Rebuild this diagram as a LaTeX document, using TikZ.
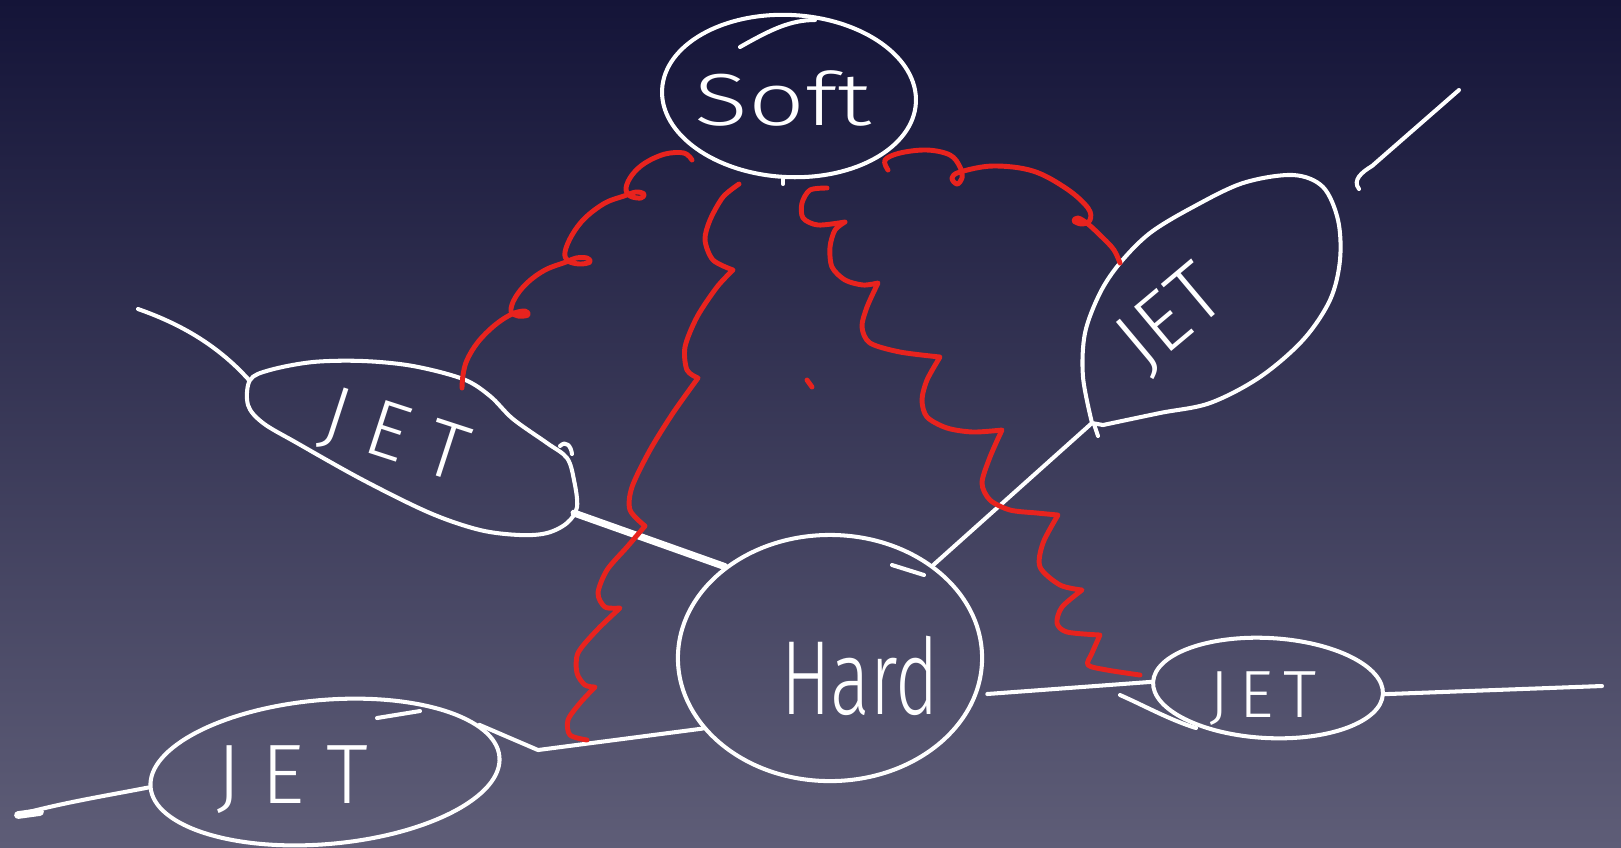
\documentclass[tikz,border=0pt]{standalone}
\usepackage{fontspec}
\usetikzlibrary{shapes.geometric}
\IfFontExistsTF{Fira Sans Light}{\newfontfamily\hand{Fira Sans Light}}{\newfontfamily\hand{Fira Sans}}
\definecolor{bgtop}{HTML}{141438}
\definecolor{bgbot}{HTML}{5E5D77}
\definecolor{gluon}{HTML}{E8231E}
\newcommand{\jetword}[1]{J\kern#1 E\kern#1 T}
\begin{document}
\begin{tikzpicture}[x=0.01cm,y=-0.01cm,
  pen/.style={draw=white,line width=1.15pt,line cap=round,line join=round},
  glu/.style={draw=gluon,line width=1.4pt,line cap=round,line join=round},
  blob/.style={ellipse,pen,inner sep=0pt},
  hw/.style={text=white,inner sep=0pt}]
% backdrop
\shade[top color=bgtop,bottom color=bgbot] (0,0) rectangle (1621,847);
\useasboundingbox (0,0) rectangle (1621,847);

% ---- blobs ----
\node[blob,minimum width=2.54cm,minimum height=1.62cm,rotate=-3] (soft) at (789,96) {};
\node[hw,font=\hand\fontsize{21}{24}\selectfont,xscale=1.35] (softtext) at (783,98) {Soft};
\draw[pen] (740,47) .. controls (770,30) and (790,20) .. (815,20);
\draw[pen] (783,177) -- (783,184);

\node[blob,minimum width=3.04cm,minimum height=2.46cm] (hard) at (830,658) {};
\node[hw,font=\hand\fontsize{30}{34}\selectfont,xscale=0.7] (hardtext) at (860,676) {Hard};
\draw[pen] (892,565) -- (924,575);

\node[blob,minimum width=3.5cm,minimum height=1.44cm,rotate=5] (jetBL) at (325,772) {};
\node[hw,font=\hand\fontsize{24}{28}\selectfont] (jetBLtext) at (292,780) {\jetword{6pt}};
\draw[pen] (377,718) -- (420,711);

\node[blob,minimum width=2.3cm,minimum height=1.0cm,rotate=-3] (jetBR) at (1268,688) {};
\node[hw,font=\hand\fontsize{19}{22}\selectfont] (jetBRtext) at (1263,699) {\jetword{3pt}};
\draw[pen] (1120,695) .. controls (1145,706) and (1170,720) .. (1196,728);

% left jet: elongated, tilted outline around its label
\node[hw,font=\hand\fontsize{23}{26}\selectfont,rotate=-18] (jetL) at (395,438) {\jetword{6pt}};
\draw[pen] plot[smooth cycle,tension=0.55] coordinates {
  (250,380) (270,370) (313,362) (363,361) (413,366) (463,379) (490,396)
  (513,419) (547,443) (567,458) (574,480) (577,507) (567,523) (547,533)
  (520,535) (480,530) (430,513) (363,480) (297,443) (263,423) (248,405)};
\coordinate (jetLin) at (249,380);
\coordinate (jetLout) at (574,513);
\draw[pen] (560,446) .. controls (566,440) and (571,446) .. (572,454);

% upper right jet: teardrop pointing to the hard vertex
\node[hw,font=\hand\fontsize{24}{28}\selectfont,rotate=40] (jetTR) at (1172,320) {JET};
\draw[pen] plot[smooth,tension=0.55] coordinates {
  (1092,423) (1083,377) (1085,333) (1100,293) (1120,263) (1150,233) (1193,207)
  (1243,183) (1293,175) (1323,187) (1338,220) (1340,260) (1330,300) (1303,340)
  (1260,377) (1210,403) (1160,413) (1103,425)} -- cycle;
\coordinate (jetTRtip) at (1092,423);
\draw[pen] (1094,424) -- (1098,436);

% ---- free ends of the outgoing lines ----
\coordinate (freeL) at (138,309);
\coordinate (freeBL) at (18,815);
\coordinate (freeBR) at (1602,686);
\coordinate (freeTRa) at (1359,189);
\coordinate (freeTRb) at (1459,90);
\coordinate (blj) at (538,750);

% ---- white lines ----
\draw[pen] (freeL) .. controls (175,322) and (215,342) .. (jetLin);
\draw[pen,line width=2pt] (jetLout) -- (hard.139);
\draw[pen] (hard.42) -- (jetTRtip);
\draw[pen] (freeTRa) .. controls (1352,180) and (1362,172) .. (1372,166) -- (freeTRb);
\draw[pen] (freeBL) .. controls (60,803) and (110,795) .. (jetBL.west);
\draw[line width=2.2pt,white,line cap=round] (18,815) -- (40,812);
\draw[pen] (jetBL.12) -- (blj) -- (hard.209);
\draw[pen,shorten <=0.1cm] (hard.-14) -- (jetBR.west);
\draw[pen] (jetBR.east) -- (freeBR);

% ---- gluons ----
\coordinate (g1s) at (692,160);
\coordinate (g1e) at (462,388);
\draw[glu] plot[smooth,tension=0.6] coordinates {
  (g1s) (684,153) (665,154) (645,163) (632,175) (626,188) (630,196) (641,198) (644,194) (636,192) (624,196)
  (605,203) (585,218) (572,235) (565,252) (568,261) (580,264) (590,262) (587,258) (576,258) (566,262)
  (545,270) (527,283) (515,298) (511,311) (518,316) (528,315) (525,311) (512,314)
  (495,325) (478,342) (467,360) (463,375) (g1e)};

\coordinate (g2s) at (739,184);
\coordinate (g2e) at (587,740);
\draw[glu] plot[smooth] coordinates {(g2s) (723,197) (710,220) (705,240) (713,260) (733,270)}
  -- plot[smooth] coordinates {(733,270) (717,287) (697,317) (685,347) (687,370) (698,378)}
  -- plot[smooth] coordinates {(698,378) (673,413) (650,450) (632,487) (630,510) (645,526)}
  -- plot[smooth] coordinates {(645,526) (627,547) (607,570) (598,593) (605,607) (620,608)}
  -- plot[smooth] coordinates {(620,608) (597,630) (578,653) (577,673) (585,685) (595,687)}
  -- plot[smooth] coordinates {(595,687) (580,703) (568,720) (570,735) (g2e)};

\coordinate (g3s) at (827,188);
\coordinate (g3e) at (1140,675);
\draw[glu] plot[smooth] coordinates {(g3s) (810,190) (802,203) (803,218) (818,225) (845,222)}
  -- plot[smooth] coordinates {(845,222) (835,230) (830,247) (832,267) (845,280) (863,285) (878,283)}
  -- plot[smooth] coordinates {(878,283) (867,307) (862,327) (870,343) (900,352) (940,357)}
  -- plot[smooth] coordinates {(940,357) (927,380) (922,400) (927,417) (947,428) (973,432) (1002,430)}
  -- plot[smooth] coordinates {(1002,430) (990,457) (982,483) (990,500) (1010,510) (1037,513) (1058,515)}
  -- plot[smooth] coordinates {(1058,515) (1043,543) (1040,567) (1060,585) (1082,590)}
  -- plot[smooth] coordinates {(1082,590) (1062,607) (1057,623) (1067,632) (1100,635)}
  -- plot[smooth] coordinates {(1100,635) (1092,653) (1088,665) (1107,670) (g3e)};
\draw[glu] (807,380) -- (812,387);

\coordinate (g4s) at (888,170);
\coordinate (g4e) at (1120,263);
\draw[glu] plot[smooth,tension=0.6] coordinates {
  (g4s) (885,160) (900,153) (927,150) (950,155) (960,167) (962,178) (957,184) (952,178) (960,172)
  (993,166) (1033,171) (1067,189) (1088,208) (1090,220) (1082,224) (1074,221) (1078,218) (1088,224)
  (1103,238) (1114,250) (g4e)};
\end{tikzpicture}
\end{document}
